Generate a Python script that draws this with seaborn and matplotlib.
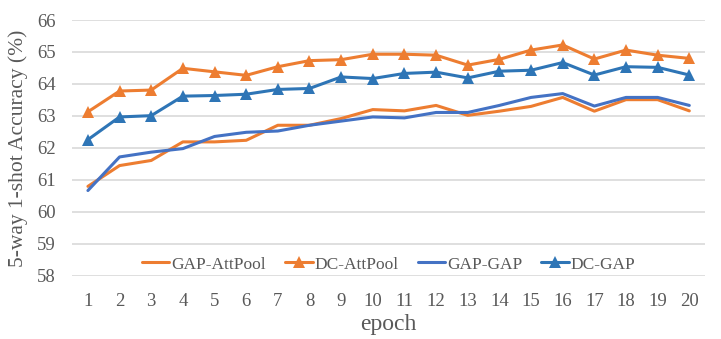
import pandas as pd
import numpy as np
from matplotlib import pyplot as plt
import seaborn as sns

epochs = list(range(1, 21))
gap_attpool = [60.80, 61.45, 61.61, 62.19, 62.19, 62.24, 62.71, 62.71, 62.92, 63.20,
               63.16, 63.33, 63.02, 63.15, 63.30, 63.58, 63.15, 63.51, 63.51, 63.16]
dc_attpool = [63.13, 63.78, 63.81, 64.49, 64.38, 64.27, 64.54, 64.73, 64.76, 64.93,
              64.93, 64.90, 64.59, 64.77, 65.06, 65.22, 64.78, 65.06, 64.90, 64.80]
gap_gap = [60.67, 61.72, 61.87, 61.98, 62.36, 62.49, 62.53, 62.71, 62.84, 62.97,
           62.94, 63.11, 63.11, 63.33, 63.58, 63.70, 63.31, 63.58, 63.58, 63.33]
dc_gap = [62.26, 62.97, 63.01, 63.62, 63.64, 63.68, 63.83, 63.86, 64.22, 64.17,
          64.33, 64.37, 64.19, 64.40, 64.43, 64.67, 64.28, 64.54, 64.52, 64.28]

series = {
    "GAP-AttPool": (gap_attpool, "#ED7D31", None),
    "DC-AttPool": (dc_attpool, "#ED7D31", "^"),
    "GAP-GAP": (gap_gap, "#4472C4", None),
    "DC-GAP": (dc_gap, "#2E75B6", "^"),
}

sns.set_theme(style="white")
plt.rcParams['font.family'] = ['Liberation Serif', 'DejaVu Serif']
txt = "#595959"

fig = plt.figure(figsize=(7.21, 3.39), dpi=100)
ax = fig.add_axes([0.1, 0.186, 0.878, 0.755])

for name, (vals, color, marker) in series.items():
    df = pd.DataFrame({"epoch": epochs, "acc": vals})
    sns.lineplot(data=df, x="epoch", y="acc", ax=ax, color=color, linewidth=2.2,
                 marker=marker if marker else None, markersize=9,
                 markeredgewidth=0, label=name)

ax.set_xlim(0.5, 20.5)
ax.set_ylim(58, 66)
ax.set_xticks(epochs)
ax.set_yticks(range(58, 67))
ax.yaxis.grid(True, color="#d9d9d9", linewidth=1.2)
ax.set_axisbelow(True)
for s in ax.spines.values():
    s.set_visible(False)
ax.tick_params(axis="x", labelsize=13.5, colors=txt, length=0, pad=12)
ax.tick_params(axis="y", labelsize=13.5, colors=txt, length=0, pad=12)
ax.set_xlabel("epoch", fontsize=17, color=txt, labelpad=3)
ax.set_ylabel("5-way 1-shot Accuracy (%)", fontsize=15.5, color=txt, labelpad=6)

leg = ax.legend(loc="center", bbox_to_anchor=(0.5, 0.045), ncol=4, frameon=False,
                fontsize=12.5, handlelength=1.6, columnspacing=1.1, handletextpad=0.1,
                borderaxespad=0)
for t in leg.get_texts():
    t.set_color(txt)

plt.savefig("out.png", dpi=100)
